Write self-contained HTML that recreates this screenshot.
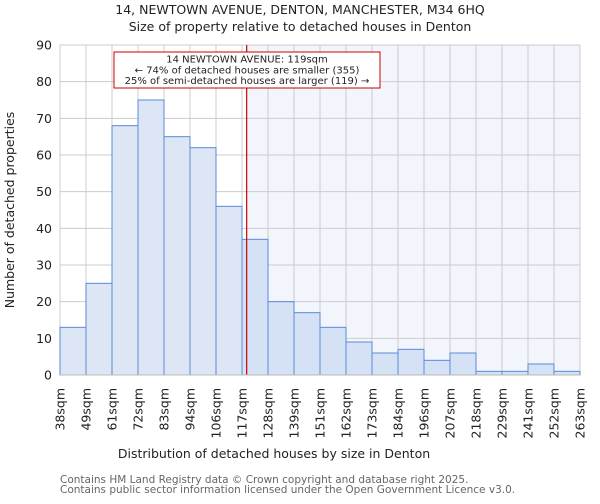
<!DOCTYPE html>
<html><head><meta charset="utf-8"><style>
body{margin:0;background:#fff;font-family:"DejaVu Sans","Liberation Sans",sans-serif}
svg text{font-family:"DejaVu Sans","Liberation Sans",sans-serif}
</style></head><body>
<svg id="c" width="600" height="500" xmlns="http://www.w3.org/2000/svg">
<text x="300" y="14" text-anchor="middle" font-size="12.5" fill="#222">14, NEWTOWN AVENUE, DENTON, MANCHESTER, M34 6HQ</text>
<text x="300" y="31" text-anchor="middle" font-size="12.5" fill="#222">Size of property relative to detached houses in Denton</text>
<g id="grid"></g><g id="bars"></g><g id="axes"></g>
<text x="274" y="458" text-anchor="middle" font-size="12.5" fill="#222">Distribution of detached houses by size in Denton</text>
<text transform="translate(14,210) rotate(-90)" text-anchor="middle" font-size="12.5" fill="#222">Number of detached properties</text>
<text x="60" y="483" font-size="10.5" fill="#666">Contains HM Land Registry data © Crown copyright and database right 2025.</text>
<text x="60" y="493" font-size="10.5" fill="#666">Contains public sector information licensed under the Open Government Licence v3.0.</text>
</svg>
<script>
const categories=["38sqm","49sqm","61sqm","72sqm","83sqm","94sqm","106sqm","117sqm","128sqm","139sqm","151sqm","162sqm","173sqm","184sqm","196sqm","207sqm","218sqm","229sqm","241sqm","252sqm","263sqm"];
const counts=[13,25,68,75,65,62,46,37,20,17,13,9,6,7,4,6,1,1,3,1];
const yTicks=[0,10,20,30,40,50,60,70,80,90];
const markerBin=7.18;
const NS="http://www.w3.org/2000/svg";
const L=60,R=580,T=45,B=375,ymax=90;
const bw=(R-L)/counts.length;
const xs=i=>L+i*bw, ys=v=>B-(B-T)*v/ymax;
function mk(p,t,a){const e=document.createElementNS(NS,t);for(const k in a)e.setAttribute(k,a[k]);p.appendChild(e);return e;}
const grid=document.getElementById('grid'),bars=document.getElementById('bars'),axes=document.getElementById('axes');
const mx=xs(markerBin);
mk(grid,'rect',{x:L,y:T,width:R-L,height:B-T,fill:'#fff'});
const sh=mk(grid,'rect',{x:mx,y:T,width:R-mx,height:B-T,fill:'#f2f5fc'});


yTicks.forEach(v=>{
 mk(grid,'line',{x1:L,x2:R,y1:ys(v),y2:ys(v),stroke:'#ccc','stroke-width':1});
 const t=mk(axes,'text',{x:L-8,y:ys(v)+4.5,'text-anchor':'end','font-size':12.5,fill:'#222'});
 t.textContent=v;
 
 
});
categories.forEach((c,i)=>{
 mk(grid,'line',{x1:xs(i),x2:xs(i),y1:T,y2:B,stroke:'#ccc','stroke-width':1});
 const x=xs(i);
 const t=mk(axes,'text',{transform:`translate(${x+4.5},${B+13}) rotate(-90)`,'text-anchor':'end','font-size':12.5,fill:'#222'});
 t.textContent=c;
 
 
});
counts.forEach((v,i)=>{
 const r=mk(bars,'rect',{x:xs(i),y:ys(v),width:bw,height:B-ys(v),fill:i>=7?'#d5e1f4':'#dce6f4',stroke:'#5a8ad8','stroke-width':1});
 
 
});
const ln=mk(axes,'line',{x1:mx,x2:mx,y1:T,y2:B,stroke:'#c00','stroke-width':1.2});


const g=mk(axes,'g',{});


mk(g,'rect',{x:114,y:52,width:266,height:36,fill:'#fff',stroke:'#c00','stroke-width':1});
["14 NEWTOWN AVENUE: 119sqm","← 74% of detached houses are smaller (355)","25% of semi-detached houses are larger (119) →"].forEach((s,i)=>{
 const t=mk(g,'text',{x:247,y:62.5+i*10.8,'text-anchor':'middle','font-size':10,fill:'#222'});
 t.textContent=s;
});
mk(axes,'line',{x1:L,x2:R,y1:B,y2:B,stroke:'#bbb','stroke-width':1});
</script>
</body></html>
